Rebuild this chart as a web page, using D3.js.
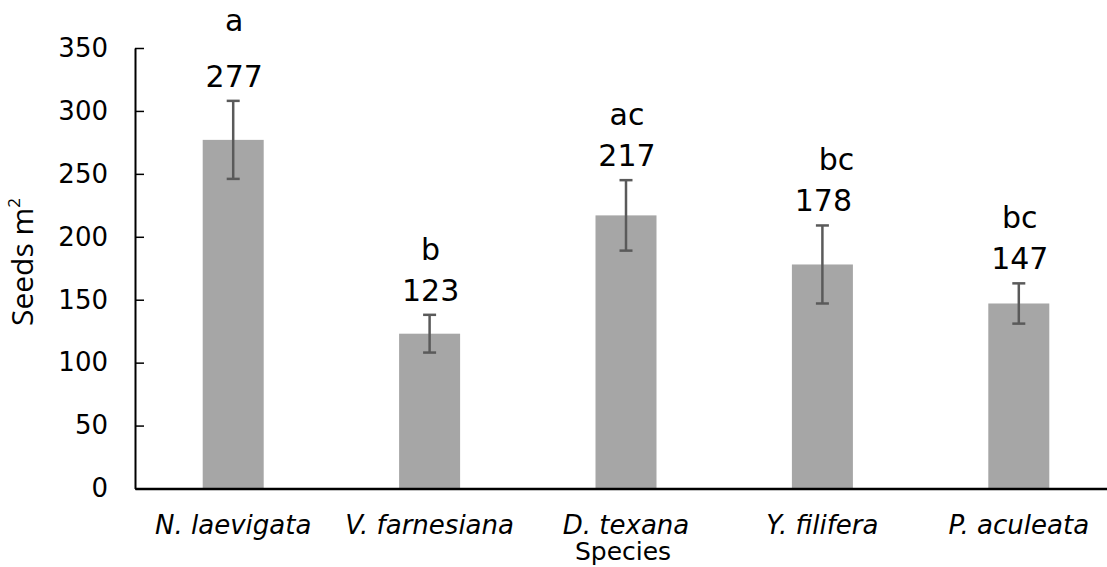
<!DOCTYPE html>
<html>
<head>
<meta charset="utf-8">
<script src="https://cdn.jsdelivr.net/npm/d3@7"></script>
<style>
  html, body { margin: 0; padding: 0; background: #fff; }
  svg { display: block; }
</style>
</head>
<body>
<svg id="chart" width="1107" height="567"></svg>
<script>
const categories = ["N. laevigata", "V. farnesiana", "D. texana", "Y. filifera", "P. aculeata"];
const seeds = [277, 123, 217, 178, 147];
const errors = [31, 15, 28, 31, 16];
const letters = ["a", "b", "ac", "bc", "bc"];
const yTicks = [0, 50, 100, 150, 200, 250, 300, 350];

(function () {
const svg = d3.select("#chart");
const mLeft = 135, mRight = 1117, mTop = 48, mBottom = 488.5;

const x = d3.scaleBand().domain(categories).range([mLeft, mRight])
  .paddingInner(0.6894).paddingOuter(0.3447);
const y = d3.scaleLinear().domain([0, 350]).range([mBottom, mTop]);

const font = "'DejaVu Sans', Verdana, sans-serif";

// bars
svg.append("g").selectAll("rect").data(categories).join("rect")
  .attr("x", d => x(d))
  .attr("y", (d, i) => y(seeds[i]))
  .attr("width", x.bandwidth())
  .attr("height", (d, i) => y(0) - y(seeds[i]))
  .attr("fill", "#a6a6a6");

// error bars
const eb = svg.append("g").attr("stroke", "#5a5a5a").attr("stroke-width", 2.5);
categories.forEach((c, i) => {
  const cx = x(c) + x.bandwidth() / 2;
  const hi = y(seeds[i] + errors[i]), lo = y(seeds[i] - errors[i]);
  eb.append("line").attr("x1", cx).attr("x2", cx).attr("y1", hi).attr("y2", lo);
  eb.append("line").attr("x1", cx - 6.5).attr("x2", cx + 6.5).attr("y1", hi).attr("y2", hi);
  eb.append("line").attr("x1", cx - 6.5).attr("x2", cx + 6.5).attr("y1", lo).attr("y2", lo);
});

// value labels + letters
categories.forEach((c, i) => {
  const cx = x(c) + x.bandwidth() / 2 + 1;
  const hi = y(seeds[i] + errors[i]);
  const vy = hi - 14;
  svg.append("text").attr("x", cx).attr("y", vy)
    .attr("text-anchor", "middle").attr("font-family", font).attr("font-size", 30)
    .attr("fill", "#000").text(seeds[i]);
  svg.append("text").attr("x", cx + (i === 3 ? 13 : 0)).attr("y", vy - (i === 0 ? 56 : 41))
    .attr("text-anchor", "middle").attr("font-family", font).attr("font-size", 30)
    .attr("fill", "#000").text(letters[i]);
});

// y axis
const yAxis = d3.axisLeft(y).tickValues(yTicks).tickSizeInner(-9).tickSizeOuter(0).tickPadding(27);
const gy = svg.append("g").attr("transform", `translate(${mLeft},0)`).call(yAxis);
gy.select(".domain").attr("stroke", "#000").attr("stroke-width", 2);
gy.selectAll(".tick line").attr("stroke", "#000").attr("stroke-width", 1.5);
gy.selectAll(".tick text").attr("font-family", font).attr("font-size", 26).attr("fill", "#000");

// x axis
const xAxis = d3.axisBottom(x).tickSize(0).tickPadding(0);
const gx = svg.append("g").attr("transform", `translate(0,${mBottom})`).call(xAxis);
gx.select(".domain").attr("stroke", "#000").attr("stroke-width", 2.5);
gx.selectAll(".tick text").attr("font-family", font).attr("font-size", 26)
  .attr("font-style", "italic").attr("fill", "#000")
  .attr("y", 45).attr("dy", 0);

// axis titles
svg.append("text").attr("x", x("D. texana") + x.bandwidth() / 2 - 3).attr("y", 560)
  .attr("text-anchor", "middle").attr("font-family", font).attr("font-size", 25)
  .attr("fill", "#000").text("Species");

const yt = svg.append("text").attr("transform", "translate(33,262) rotate(-90)")
  .attr("text-anchor", "middle").attr("font-family", "'Open Sans', 'Noto Sans', sans-serif")
  .attr("font-size", 30).attr("fill", "#000");
yt.append("tspan").text("Seeds m");
yt.append("tspan").attr("font-size", 17).attr("dy", -13).text("2");
})();
</script>
</body>
</html>
